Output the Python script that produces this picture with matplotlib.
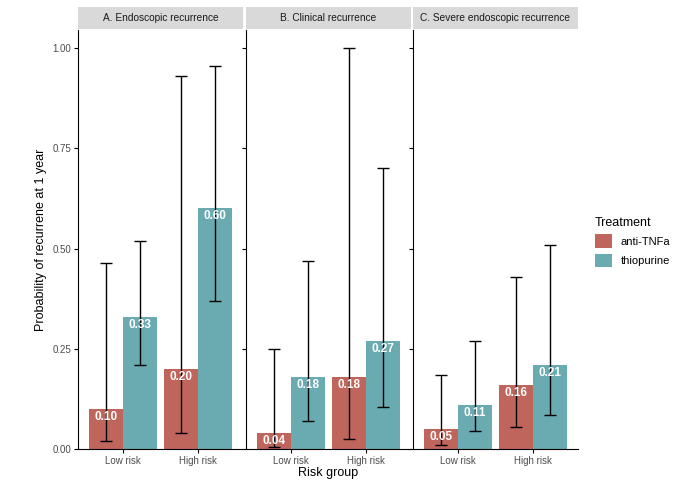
import matplotlib.pyplot as plt
import numpy as np

panels = ["A. Endoscopic recurrence", "B. Clinical recurrence", "C. Severe endoscopic recurrence"]
groups = ["Low risk", "High risk"]
treatments = ["anti-TNFa", "thiopurine"]
colors = ["#C0655C", "#6AABB1"]

# est[panel][treatment][group]
est = [[[0.10, 0.20], [0.33, 0.60]],
       [[0.04, 0.18], [0.18, 0.27]],
       [[0.05, 0.16], [0.11, 0.21]]]
lo = [[[0.02, 0.04], [0.21, 0.37]],
      [[0.005, 0.025], [0.07, 0.105]],
      [[0.01, 0.055], [0.045, 0.085]]]
hi = [[[0.465, 0.93], [0.52, 0.955]],
      [[0.25, 1.0], [0.47, 0.70]],
      [[0.185, 0.43], [0.27, 0.51]]]

plt.rcParams['font.family'] = ['Arial', 'Liberation Sans', 'DejaVu Sans']
fig = plt.figure(figsize=(6.8, 4.84), dpi=100)
W, H = 680, 484
x0s = [78, 246, 413]
pw = 165
top, bot = 30, 449
strip_h = 22
axes = []
for p in range(3):
    ax = fig.add_axes([x0s[p] / W, 1 - bot / H, pw / W, (bot - top) / H])
    sax = fig.add_axes([x0s[p] / W, 1 - (top - 1) / H, pw / W, strip_h / H])
    sax.set_facecolor("#D9D9D9")
    sax.set_xticks([]); sax.set_yticks([])
    for s in sax.spines.values():
        s.set_visible(False)
    sax.text(0.5, 0.5, panels[p], ha="center", va="center", fontsize=7.3, color="#1A1A1A")
    x = np.arange(1, 3)
    for t in range(2):
        xs = x + (t - 0.5) * 0.45
        ax.bar(xs, est[p][t], width=0.45, color=colors[t], label=treatments[t])
        e = np.array(est[p][t]); l = np.array(lo[p][t]); h = np.array(hi[p][t])
        ax.errorbar(xs, e, yerr=[e - l, h - e], fmt="none", ecolor="black", elinewidth=1, capsize=4)
        for xi, v in zip(xs, e):
            ax.text(xi, v - 0.005, f"{v:.2f}", ha="center", va="top", color="white",
                    fontsize=8.5, fontweight="bold")
    ax.set_xlim(0.4, 2.6)
    ax.set_ylim(0, 1.045)
    ax.set_xticks(x)
    ax.set_xticklabels(groups, fontsize=7, color="#4D4D4D")
    ax.tick_params(axis="x", pad=2, length=3)
    ax.tick_params(axis="y", pad=2, length=3)
    ax.set_yticks([0, 0.25, 0.5, 0.75, 1.0])
    if p == 0:
        ax.set_yticklabels(["0.00", "0.25", "0.50", "0.75", "1.00"], fontsize=7, color="#4D4D4D")
        ax.set_ylabel("Probability of recurrene at 1 year", fontsize=9)
    else:
        ax.set_yticklabels([])
    if p == 1:
        ax.set_xlabel("Risk group", fontsize=9, labelpad=1)
    for s in ["top", "right"]:
        ax.spines[s].set_visible(False)
    axes.append(ax)

h, l = axes[0].get_legend_handles_labels()
fig.legend(h, l, title="Treatment", loc="center left", bbox_to_anchor=(585 / W, 0.5),
           frameon=False, fontsize=8, title_fontsize=9, handlelength=1.5, handleheight=1.5,
           alignment="left")
fig.savefig("out.png", dpi=100)
